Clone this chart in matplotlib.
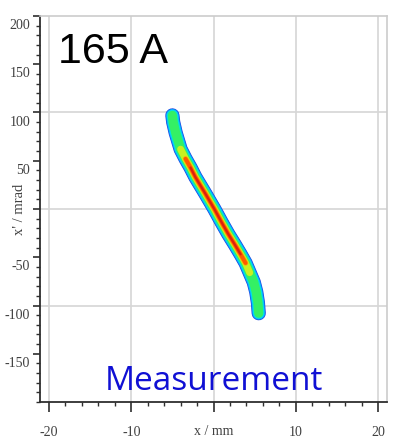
import matplotlib
matplotlib.use("Agg")
import matplotlib.pyplot as plt
from matplotlib.ticker import FixedLocator, MultipleLocator
from matplotlib.transforms import ScaledTranslation
import numpy as np

# Ridge of the measured phase-space distribution (x in mm, x' in mrad)
ridge_x = [-5.0, -4.9, -4.6, -4.0, -3.4, -2.8, -2.2, -1.0, 0.1, 1.0, 1.8, 2.6, 3.3, 3.9, 4.4, 4.9, 5.2, 5.4, 5.5]
ridge_y = [97, 90, 79, 62, 52, 43, 33, 16, 0, -14, -26, -37, -47, -56, -66, -76, -86, -97, -108]

# Density layers, outermost first: colour, line width (pt), x' range covered
layer_colors = ["#1c3cdc", "#0a9cff", "#00e0e8", "#34f064", "#c8f022", "#ffa800", "#ff5a00", "#dc2010"]
layer_widths = [10.2, 9.4, 8.2, 6.6, 5.0, 3.8, 2.8, 1.6]
layer_top = [200, 200, 200, 200, 70, 60, 52, 45]
layer_bottom = [-200, -200, -200, -200, -75, -62, -56, -50]

# Axis ticks and labels
x_ticks = [-20, -10, 0, 10, 20]
x_ticklabels = ["-20", "-10", "", "10", "20"]
y_ticks = [-150, -100, -50, 0, 50, 100, 150, 200]
y_ticklabels = ["-150", "-100", "-50", "", "50", "100", "150", "200"]
x_grid = [-20, -10, 0, 10, 20]
y_grid = [-100, 0, 100]

fig = plt.figure(figsize=(3.94, 4.48), dpi=100)
ax = fig.add_axes([40 / 394, 46 / 448, 347 / 394, 386 / 448])
ax.set_xlim(-21.1, 21.1)
ax.set_ylim(-200, 200)

for gx in x_grid:
    ax.axvline(gx, color="#d6d6d6", lw=1.2, zorder=0)
for gy in y_grid:
    ax.axhline(gy, color="#d6d6d6", lw=1.2, zorder=0)

rx = np.array(ridge_x)
ry = np.array(ridge_y)
for col, lw, top, bot in zip(layer_colors, layer_widths, layer_top, layer_bottom):
    sel = (ry <= top) & (ry >= bot)
    ax.plot(rx[sel], ry[sel], color=col, lw=lw, solid_capstyle="round",
            solid_joinstyle="round", zorder=2)

# Frame: dark left/bottom, light top/right
for side in ("left", "bottom"):
    ax.spines[side].set_color("#2e2e2e")
    ax.spines[side].set_linewidth(1.3)
for side in ("top", "right"):
    ax.spines[side].set_color("#cccccc")
    ax.spines[side].set_linewidth(1.2)

serif = "Liberation Serif"
ax.xaxis.set_major_locator(FixedLocator(x_ticks))
ax.xaxis.set_minor_locator(MultipleLocator(2))
ax.yaxis.set_major_locator(FixedLocator(y_ticks))
ax.yaxis.set_minor_locator(MultipleLocator(10))
ax.set_xticklabels(x_ticklabels)
ax.set_yticklabels(y_ticklabels)

ax.tick_params(axis="x", which="major", direction="out", length=7.2, width=1.2,
               color="#2e2e2e", pad=10, labelsize=10, labelcolor="#404040")
ax.tick_params(axis="x", which="minor", direction="out", length=3, width=1.0,
               color="#2e2e2e")
ax.tick_params(axis="y", which="major", direction="out", length=5, width=1.2,
               color="#2e2e2e", pad=2, labelsize=10, labelcolor="#404040")
ax.tick_params(axis="y", which="minor", direction="out", length=3, width=1.0,
               color="#2e2e2e")

for lab in ax.get_xticklabels():
    lab.set_fontfamily(serif)
shift = ScaledTranslation(0, -8 / 100, fig.dpi_scale_trans)
for lab in ax.get_yticklabels():
    lab.set_fontfamily(serif)
    lab.set_transform(lab.get_transform() + shift)

ax.set_xlabel("x / mm", family=serif, fontsize=10, color="#404040", va="center")
ax.xaxis.set_label_coords(0.5, -0.0777)
ax.set_ylabel("x' / mrad", family=serif, fontsize=10.5, color="#404040", va="center")
ax.yaxis.set_label_coords(-0.06, 0.5)

ax.text(0.052, 0.878, "165 A", transform=ax.transAxes, family="Liberation Sans",
        fontsize=31, color="black", ha="left", va="baseline")
ax.text(0.5, 0.031, "Measurement", transform=ax.transAxes, family="Open Sans",
        fontsize=24, color="#1010d4", ha="center", va="baseline")

fig.savefig("out.png", dpi=100)
